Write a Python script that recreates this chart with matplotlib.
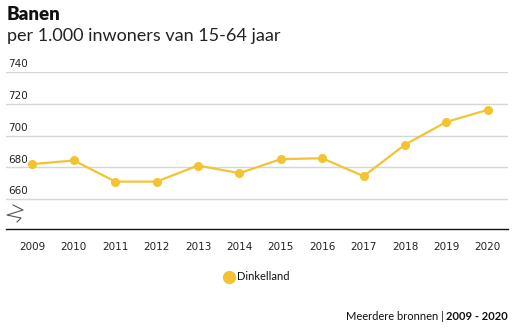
import matplotlib
matplotlib.use('Agg')
import matplotlib.pyplot as plt

# banen per 1.000 inwoners van 15-64 jaar
jaren = [2009, 2010, 2011, 2012, 2013, 2014, 2015, 2016, 2017, 2018, 2019, 2020]
dinkelland = [682.1, 684.4, 671.1, 671.1, 681.2, 676.4, 685.2, 685.8, 674.5, 694.3, 708.6, 716.2]
yticks = [660, 680, 700, 720, 740]

geel = '#f3c331'
plt.rcParams['font.family'] = ['Lato', 'DejaVu Sans']

fig = plt.figure(figsize=(5.16, 3.29), dpi=100)
ax = fig.add_axes([6 / 516, 100 / 329, 502 / 516, 157 / 329])

ax.plot(jaren, dinkelland, color=geel, lw=1.6, marker='o', ms=5.5, zorder=3)

ax.set_xlim(2008.36, 2020.49)
ax.set_ylim(641.3, 740)

# gridlijnen en y-labels boven de lijn
for v in yticks:
    ax.axhline(v, color='#d6d6d6', lw=1, zorder=1)
    ax.annotate(str(v), xy=(0.004, v), xycoords=('axes fraction', 'data'),
                xytext=(0, 2), textcoords='offset points', ha='left', va='bottom',
                fontsize=7.5, family='DejaVu Sans', color='#222222')

for s in ['top', 'right', 'left']:
    ax.spines[s].set_visible(False)
ax.spines['bottom'].set_color('#111111')
ax.spines['bottom'].set_linewidth(1)
ax.set_yticks([])
ax.set_xticks(jaren)
ax.set_xticklabels([str(j) for j in jaren], fontsize=7.5, family='DejaVu Sans', color='#222222')
ax.tick_params(axis='x', length=0, pad=9)

# as-onderbreking
ax.plot([0.014, 0.034, 0.002, 0.030, 0.022], [0.153, 0.121, 0.089, 0.070, 0.045],
        transform=ax.transAxes, color='#555555', lw=0.8, clip_on=False)

fig.text(7 / 516, 1 - 15 / 329, 'Banen', fontsize=13.5, fontweight='heavy', va='center', color='#111111')
fig.text(7 / 516, 1 - 36 / 329, 'per 1.000 inwoners van 15-64 jaar', fontsize=13, va='center',
         color='#222222')

# legenda
fig.lines.append(plt.Line2D([229 / 516], [1 - 277 / 329], marker='o', ms=8.5, color=geel,
                            transform=fig.transFigure))
fig.text(237 / 516, 1 - 277 / 329, 'Dinkelland', fontsize=8, va='center', color='#111111')

# bron
t = fig.text(508 / 516, 1 - 316 / 329, '2009 - 2020', fontsize=8, fontweight='bold',
             ha='right', va='center', color='#111111')
fig.canvas.draw()
bb = t.get_window_extent()
fig.text(bb.x0 / fig.bbox.width, 1 - 316 / 329, 'Meerdere bronnen | ', fontsize=8,
         ha='right', va='center', color='#111111')

fig.savefig('out.png', dpi=100)
